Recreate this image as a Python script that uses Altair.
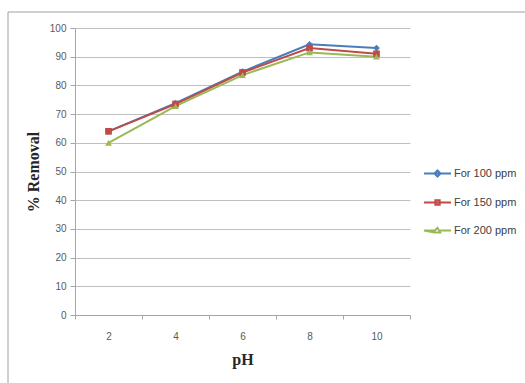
import altair as alt
import pandas as pd

# pH values tested
ph = [2, 4, 6, 8, 10]

# percent removal for each initial concentration
removal_100 = [64.0, 73.8, 84.8, 94.3, 93.0]
removal_150 = [64.0, 73.5, 84.5, 93.0, 91.0]
removal_200 = [60.0, 72.8, 83.6, 91.5, 90.0]

series = ["For 100 ppm", "For 150 ppm", "For 200 ppm"]
colors = ["#4a7ebb", "#be4b48", "#98b954"]
shapes = ["diamond", "square", "triangle-up"]
# legend keys: a short line with the series marker on it
legend_keys = [
    "M-1,0H-0.22L0,-0.22L0.22,0H1M0.22,0L0,0.22L-0.22,0Z",
    "M-1,0H-0.16V-0.16H0.16V0H1M0.16,0V0.16H-0.16V0Z",
    "M-1,0H-0.2L0,-0.2L0.2,0.15H-0.2Z M0.2,0H1",
]

rows = []
for name, vals in zip(series, [removal_100, removal_150, removal_200]):
    for p, v in zip(ph, vals):
        rows.append({"pH": p, "Removal": v, "Series": name, "Key": name})
df = pd.DataFrame(rows)

label_font = "Liberation Sans, Arial"
title_font = "Liberation Serif, Times New Roman, serif"

x = alt.X(
    "pH:Q",
    scale=alt.Scale(domain=[1, 11], nice=False, zero=False),
    axis=alt.Axis(
        title="pH",
        values=list(range(1, 12)),
        labelExpr="datum.value % 2 == 0 ? datum.label : ''",
        tickOpacity={"condition": {"test": "datum.value % 2 == 0", "value": 0}, "value": 1},
        grid=False,
        tickSize=4,
        tickColor="#a6a6a6",
        domainColor="#a6a6a6",
        labelPadding=12,
        titlePadding=10,
    ),
)
y = alt.Y(
    "Removal:Q",
    scale=alt.Scale(domain=[0, 100], nice=False),
    axis=alt.Axis(
        title="% Removal",
        values=list(range(0, 101, 10)),
        tickSize=5,
        tickColor="#a6a6a6",
        domainColor="#a6a6a6",
        gridColor="#bfbfbf",
        labelPadding=4,
        titlePadding=8,
    ),
)

color_plain = alt.Color("Series:N", scale=alt.Scale(domain=series, range=colors), legend=None)
shape_plain = alt.Shape("Series:N", scale=alt.Scale(domain=series, range=shapes), legend=None)

lines = alt.Chart(df).mark_line(strokeWidth=2).encode(x=x, y=y, color=color_plain, detail="Series:N")
points = alt.Chart(df).mark_point(filled=True, size=45, opacity=1).encode(
    x=x, y=y, color=color_plain, shape=shape_plain
)

# invisible layer that only supplies the legend (line-and-marker keys)
key_legend = alt.Legend(
    title=None,
    orient="none",
    legendX=348,
    legendY=131,
    labelFont=label_font,
    labelFontSize=11,
    labelColor="#404040",
    labelOffset=2,
    symbolSize=729,
    symbolStrokeWidth=2,
    symbolOpacity=1,
    rowPadding=7,
)
keys = alt.Chart(df).mark_point(filled=False, opacity=0).encode(
    x=x,
    y=y,
    color=alt.Color("Key:N", scale=alt.Scale(domain=series, range=colors), legend=key_legend),
    shape=alt.Shape("Key:N", scale=alt.Scale(domain=series, range=legend_keys), legend=key_legend),
)

frame = alt.Chart(pd.DataFrame({"k": [0]})).mark_rect(
    fill=None, stroke="#a0a0a0", strokeWidth=1
).encode(
    x=alt.value(-67), x2=alt.value(452), y=alt.value(-16), y2=alt.value(358)
)

chart = (
    alt.layer(frame, lines, points, keys)
    .resolve_scale(color="independent", shape="independent")
    .properties(
        width=335,
        height=287,
        padding={"left": 75, "top": 28, "right": 115, "bottom": 68},
        autosize=alt.AutoSizeParams(type="none"),
        background="white",
    )
    .configure_view(stroke=None)
    .configure_axis(
        labelFont=label_font,
        labelFontSize=10,
        labelColor="#595959",
        titleFont=title_font,
        titleFontSize=16,
        titleFontWeight="bold",
        titleColor="#262626",
    )
)

chart.save("out.html", embed_options={"renderer": "svg", "actions": False})
